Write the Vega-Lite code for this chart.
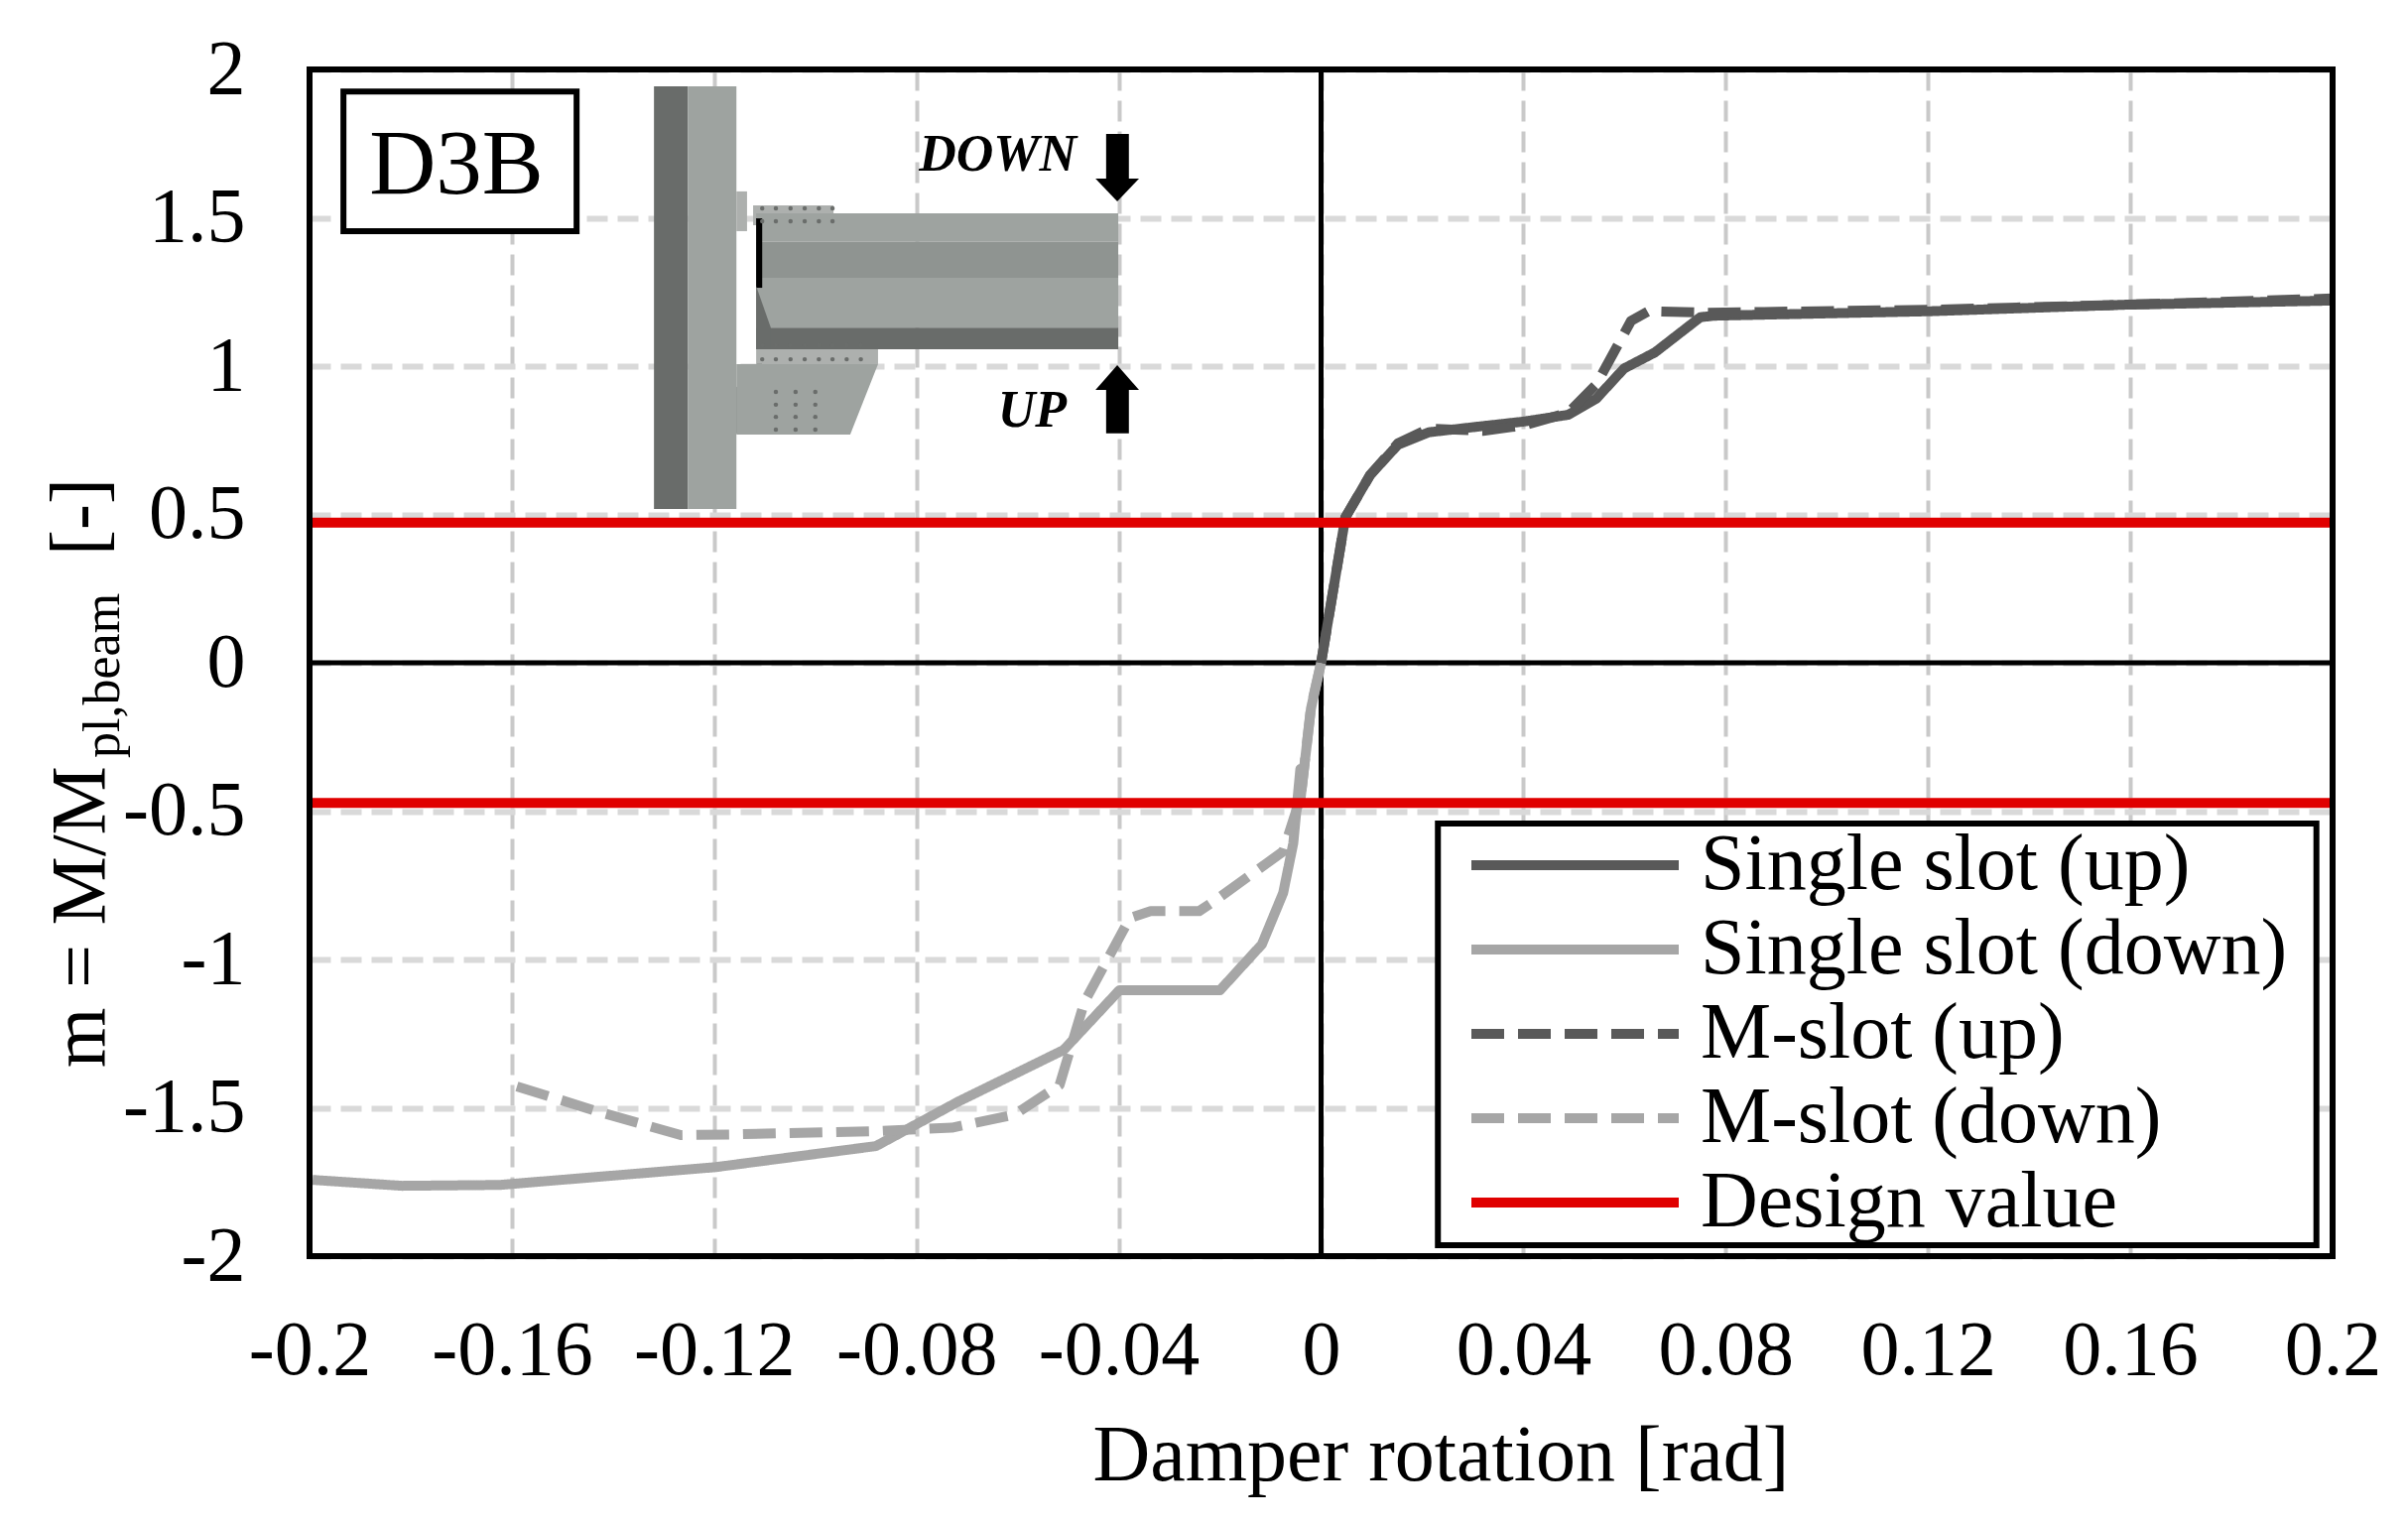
{
  "$schema": "https://vega.github.io/schema/vega-lite/v6.json",
  "width": 2039,
  "height": 1196,
  "autosize": "none",
  "padding": {"left": 312, "top": 70, "right": 76, "bottom": 272},
  "background": "white",
  "config": {
    "font": "Liberation Serif",
    "view": {"stroke": null}
  },
  "datasets": {
    "curves": [
      {"rotation": 0, "m": 0, "series": "Single slot (up)"},
      {"rotation": 0.0048, "m": 0.49, "series": "Single slot (up)"},
      {"rotation": 0.0097, "m": 0.633, "series": "Single slot (up)"},
      {"rotation": 0.0152, "m": 0.735, "series": "Single slot (up)"},
      {"rotation": 0.0213, "m": 0.777, "series": "Single slot (up)"},
      {"rotation": 0.031, "m": 0.796, "series": "Single slot (up)"},
      {"rotation": 0.04, "m": 0.813, "series": "Single slot (up)"},
      {"rotation": 0.0489, "m": 0.836, "series": "Single slot (up)"},
      {"rotation": 0.0544, "m": 0.89, "series": "Single slot (up)"},
      {"rotation": 0.0599, "m": 0.992, "series": "Single slot (up)"},
      {"rotation": 0.066, "m": 1.046, "series": "Single slot (up)"},
      {"rotation": 0.075, "m": 1.165, "series": "Single slot (up)"},
      {"rotation": 0.0778, "m": 1.17, "series": "Single slot (up)"},
      {"rotation": 0.1205, "m": 1.185, "series": "Single slot (up)"},
      {"rotation": 0.159, "m": 1.207, "series": "Single slot (up)"},
      {"rotation": 0.2, "m": 1.221, "series": "Single slot (up)"},

      {"rotation": 0, "m": 0, "series": "Single slot (down)"},
      {"rotation": -0.002, "m": -0.154, "series": "Single slot (down)"},
      {"rotation": -0.0041, "m": -0.358, "series": "Single slot (down)"},
      {"rotation": -0.0041, "m": -0.465, "series": "Single slot (down)"},
      {"rotation": -0.0055, "m": -0.609, "series": "Single slot (down)"},
      {"rotation": -0.0075, "m": -0.776, "series": "Single slot (down)"},
      {"rotation": -0.0117, "m": -0.949, "series": "Single slot (down)"},
      {"rotation": -0.02, "m": -1.104, "series": "Single slot (down)"},
      {"rotation": -0.0399, "m": -1.104, "series": "Single slot (down)"},
      {"rotation": -0.0509, "m": -1.305, "series": "Single slot (down)"},
      {"rotation": -0.0716, "m": -1.478, "series": "Single slot (down)"},
      {"rotation": -0.088, "m": -1.629, "series": "Single slot (down)"},
      {"rotation": -0.1197, "m": -1.7, "series": "Single slot (down)"},
      {"rotation": -0.1624, "m": -1.76, "series": "Single slot (down)"},
      {"rotation": -0.1817, "m": -1.763, "series": "Single slot (down)"},
      {"rotation": -0.1994, "m": -1.743, "series": "Single slot (down)"},

      {"rotation": 0, "m": 0, "series": "M-slot (up)"},
      {"rotation": 0.0048, "m": 0.49, "series": "M-slot (up)"},
      {"rotation": 0.0097, "m": 0.633, "series": "M-slot (up)"},
      {"rotation": 0.0152, "m": 0.74, "series": "M-slot (up)"},
      {"rotation": 0.0213, "m": 0.789, "series": "M-slot (up)"},
      {"rotation": 0.032, "m": 0.782, "series": "M-slot (up)"},
      {"rotation": 0.04, "m": 0.8, "series": "M-slot (up)"},
      {"rotation": 0.0489, "m": 0.843, "series": "M-slot (up)"},
      {"rotation": 0.0544, "m": 0.938, "series": "M-slot (up)"},
      {"rotation": 0.0613, "m": 1.153, "series": "M-slot (up)"},
      {"rotation": 0.0647, "m": 1.185, "series": "M-slot (up)"},
      {"rotation": 0.0765, "m": 1.18, "series": "M-slot (up)"},
      {"rotation": 0.1205, "m": 1.19, "series": "M-slot (up)"},
      {"rotation": 0.159, "m": 1.207, "series": "M-slot (up)"},
      {"rotation": 0.2, "m": 1.228, "series": "M-slot (up)"},

      {"rotation": 0, "m": 0, "series": "M-slot (down)"},
      {"rotation": -0.002, "m": -0.15, "series": "M-slot (down)"},
      {"rotation": -0.004, "m": -0.45, "series": "M-slot (down)"},
      {"rotation": -0.0075, "m": -0.636, "series": "M-slot (down)"},
      {"rotation": -0.0207, "m": -0.798, "series": "M-slot (down)"},
      {"rotation": -0.0241, "m": -0.837, "series": "M-slot (down)"},
      {"rotation": -0.0337, "m": -0.837, "series": "M-slot (down)"},
      {"rotation": -0.0378, "m": -0.86, "series": "M-slot (down)"},
      {"rotation": -0.0468, "m": -1.144, "series": "M-slot (down)"},
      {"rotation": -0.0517, "m": -1.423, "series": "M-slot (down)"},
      {"rotation": -0.0606, "m": -1.523, "series": "M-slot (down)"},
      {"rotation": -0.073, "m": -1.567, "series": "M-slot (down)"},
      {"rotation": -0.088, "m": -1.579, "series": "M-slot (down)"},
      {"rotation": -0.117, "m": -1.59, "series": "M-slot (down)"},
      {"rotation": -0.1266, "m": -1.592, "series": "M-slot (down)"},
      {"rotation": -0.1431, "m": -1.512, "series": "M-slot (down)"},
      {"rotation": -0.159, "m": -1.428, "series": "M-slot (down)"},

      {"rotation": -0.2, "m": 0.472, "series": "Design value", "side": "upper"},
      {"rotation": 0.2, "m": 0.472, "series": "Design value", "side": "upper"},
      {"rotation": -0.2, "m": -0.472, "series": "Design value", "side": "lower"},
      {"rotation": 0.2, "m": -0.472, "series": "Design value", "side": "lower"}
    ],
    "insetRects": [
      {"x": -0.1319, "x2": -0.1252, "y": 1.943, "y2": 0.518, "part": "dark"},
      {"x": -0.1252, "x2": -0.1156, "y": 1.943, "y2": 0.518, "part": "light"},
      {"x": -0.1156, "x2": -0.1135, "y": 1.589, "y2": 1.455, "part": "pale"},
      {"x": -0.1156, "x2": -0.1123, "y": 0.93, "y2": 0.773, "part": "dark"},
      {"x": -0.1123, "x2": -0.0964, "y": 1.542, "y2": 1.475, "part": "pale"},
      {"x": -0.1117, "x2": -0.0401, "y": 1.515, "y2": 1.42, "part": "light"},
      {"x": -0.1117, "x2": -0.0401, "y": 1.42, "y2": 1.298, "part": "mid"},
      {"x": -0.1117, "x2": -0.0401, "y": 1.298, "y2": 1.13, "part": "light"},
      {"x": -0.1117, "x2": -0.0401, "y": 1.13, "y2": 1.057, "part": "dark"},
      {"x": -0.1117, "x2": -0.0876, "y": 1.057, "y2": 1.007, "part": "pale"},
      {"x": -0.1117, "x2": -0.1105, "y": 1.498, "y2": 1.264, "part": "black"},
      {"x": -0.1125, "x2": -0.0954, "y": 0.946, "y2": 0.769, "part": "pale"},
      {"x": -0.1125, "x2": -0.0954, "y": 0.966, "y2": 0.946, "part": "black"},
      {"x": -0.0962, "x2": -0.0954, "y": 0.946, "y2": 0.78, "part": "black"},
      {"x": -0.1117, "x2": -0.1105, "y": 1.007, "y2": 0.946, "part": "black"},
      {"x": -0.0425, "x2": -0.038, "y": 1.783, "y2": 1.632, "part": "black"},
      {"x": -0.0425, "x2": -0.038, "y": 0.92, "y2": 0.773, "part": "black"}
    ],
    "insetAreas": [
      {"shape": "gusset", "x": -0.1156, "y": 1.007, "y2": 0.769, "part": "light"},
      {"shape": "gusset", "x": -0.0931, "y": 1.007, "y2": 0.769, "part": "light"},
      {"shape": "gusset", "x": -0.0876, "y": 1.007, "y2": 1.007, "part": "light"},
      {"shape": "downHead", "x": -0.0446, "y": 1.632, "y2": 1.632, "part": "black"},
      {"shape": "downHead", "x": -0.0403, "y": 1.632, "y2": 1.555, "part": "black"},
      {"shape": "downHead", "x": -0.036, "y": 1.632, "y2": 1.632, "part": "black"},
      {"shape": "upHead", "x": -0.0446, "y": 0.92, "y2": 0.92, "part": "black"},
      {"shape": "upHead", "x": -0.0403, "y": 1.003, "y2": 0.92, "part": "black"},
      {"shape": "upHead", "x": -0.036, "y": 0.92, "y2": 0.92, "part": "black"},
      {"shape": "wedge", "x": -0.1117, "y": 1.27, "y2": 1.057, "part": "dark"},
      {"shape": "wedge", "x": -0.1088, "y": 1.13, "y2": 1.057, "part": "dark"}
    ],
    "bolts": [
      {"x": -0.1105, "y": 1.532}, {"x": -0.1078, "y": 1.532}, {"x": -0.1049, "y": 1.532}, {"x": -0.1021, "y": 1.532}, {"x": -0.0993, "y": 1.532}, {"x": -0.0966, "y": 1.532},
      {"x": -0.1105, "y": 1.488}, {"x": -0.1078, "y": 1.488}, {"x": -0.1049, "y": 1.488}, {"x": -0.1021, "y": 1.488}, {"x": -0.0993, "y": 1.488}, {"x": -0.0966, "y": 1.488},
      {"x": -0.1105, "y": 1.07}, {"x": -0.1078, "y": 1.07}, {"x": -0.1049, "y": 1.07}, {"x": -0.1021, "y": 1.07}, {"x": -0.0993, "y": 1.07}, {"x": -0.0966, "y": 1.07}, {"x": -0.0938, "y": 1.07}, {"x": -0.091, "y": 1.07},
      {"x": -0.1105, "y": 1.023}, {"x": -0.1078, "y": 1.023}, {"x": -0.1049, "y": 1.023}, {"x": -0.1021, "y": 1.023}, {"x": -0.0993, "y": 1.023}, {"x": -0.0966, "y": 1.023}, {"x": -0.0938, "y": 1.023}, {"x": -0.091, "y": 1.023},
      {"x": -0.1078, "y": 0.913}, {"x": -0.1039, "y": 0.913}, {"x": -0.1, "y": 0.913},
      {"x": -0.1078, "y": 0.87}, {"x": -0.1039, "y": 0.87}, {"x": -0.1, "y": 0.87},
      {"x": -0.1078, "y": 0.829}, {"x": -0.1039, "y": 0.829}, {"x": -0.1, "y": 0.829},
      {"x": -0.1078, "y": 0.786}, {"x": -0.1039, "y": 0.786}, {"x": -0.1, "y": 0.786}
    ],
    "boxes": [
      {"x": -0.1933, "x2": -0.1472, "y": 1.926, "y2": 1.455, "box": "tag"},
      {"x": 0.0231, "x2": 0.1968, "y": -0.542, "y2": -1.963, "box": "legend"}
    ],
    "frame": [
      {"x": -0.2, "x2": 0.2, "y": -2, "y2": 2}
    ],
    "notes": [
      {"x": -0.1882, "y": 1.582, "label": "D3B", "kind": "tag"},
      {"x": -0.0795, "y": 1.659, "label": "DOWN", "kind": "load"},
      {"x": -0.0639, "y": 0.796, "label": "UP", "kind": "load"}
    ],
    "yTitle": [
      {"x": -0.2406, "y": -1.365, "label": "m = M/M", "kind": "main"},
      {"x": -0.2376, "y": -0.321, "label": "pl,beam", "kind": "sub"},
      {"x": -0.2406, "y": 0.361, "label": "[-]", "kind": "main"}
    ]
  },
  "layer": [
    {
      "data": {"values": [{"v": 0}]},
      "mark": {"type": "rule", "color": "black", "strokeWidth": 5},
      "encoding": {
        "x": {
          "field": "v",
          "type": "quantitative",
          "scale": {"domain": [-0.2, 0.2], "nice": false, "zero": false},
          "axis": {
            "values": [-0.2, -0.16, -0.12, -0.08, -0.04, 0, 0.04, 0.08, 0.12, 0.16, 0.2],
            "labelExpr": "datum.value + ''",
            "title": "Damper rotation [rad]",
            "titleFont": "Liberation Serif",
            "titleFontSize": 80,
            "titleFontWeight": "normal",
            "titleColor": "black",
            "titlePadding": 28,
            "titleX": 1140,
            "labelFont": "Liberation Serif",
            "labelFontSize": 78,
            "labelColor": "black",
            "labelPadding": 56,
            "labelFlush": false,
            "labelOverlap": false,
            "labelLimit": 400,
            "ticks": false,
            "domain": false,
            "grid": true,
            "gridColor": "#c9c9c9",
            "gridWidth": 4,
            "gridDash": [21, 10]
          }
        }
      }
    },
    {
      "data": {"values": [{"v": 0}]},
      "mark": {"type": "rule", "color": "black", "strokeWidth": 5},
      "encoding": {
        "y": {
          "field": "v",
          "type": "quantitative",
          "scale": {"domain": [-2, 2], "nice": false, "zero": false},
          "axis": {
            "values": [-2, -1.5, -1, -0.5, 0, 0.5, 1, 1.5, 2],
            "labelExpr": "datum.value + ''",
            "title": null,
            "labelFont": "Liberation Serif",
            "labelFontSize": 78,
            "labelColor": "black",
            "labelPadding": 65,
            "labelOverlap": false,
            "labelLimit": 400,
            "ticks": false,
            "domain": false,
            "grid": true,
            "gridColor": "#d9d9d9",
            "gridWidth": 6,
            "gridDash": [21, 10]
          }
        }
      }
    },
    {
      "data": {"name": "boxes"},
      "mark": {"type": "rect", "fill": "white", "stroke": "black", "strokeWidth": 6},
      "encoding": {
        "x": {"field": "x", "type": "quantitative"},
        "x2": {"field": "x2"},
        "y": {"field": "y", "type": "quantitative"},
        "y2": {"field": "y2"}
      }
    },
    {
      "data": {"name": "insetRects"},
      "mark": {"type": "rect"},
      "encoding": {
        "x": {"field": "x", "type": "quantitative"},
        "x2": {"field": "x2"},
        "y": {"field": "y", "type": "quantitative"},
        "y2": {"field": "y2"},
        "fill": {
          "field": "part",
          "type": "nominal",
          "legend": null,
          "scale": {
            "domain": ["black", "dark", "mid", "light", "pale"],
            "range": ["#000000", "#696c6a", "#8f9491", "#9ea3a0", "#adb0ae"]
          }
        }
      }
    },
    {
      "data": {"name": "insetAreas"},
      "mark": {"type": "area"},
      "encoding": {
        "x": {"field": "x", "type": "quantitative"},
        "y": {"field": "y", "type": "quantitative"},
        "y2": {"field": "y2"},
        "detail": {"field": "shape"},
        "fill": {
          "field": "part",
          "type": "nominal",
          "legend": null,
          "scale": {
            "domain": ["black", "dark", "mid", "light", "pale"],
            "range": ["#000000", "#696c6a", "#8f9491", "#9ea3a0", "#adb0ae"]
          }
        }
      }
    },
    {
      "data": {"name": "bolts"},
      "mark": {"type": "point", "filled": true, "size": 20, "color": "#6a6d6b", "opacity": 1},
      "encoding": {
        "x": {"field": "x", "type": "quantitative"},
        "y": {"field": "y", "type": "quantitative"}
      }
    },
    {
      "data": {"name": "notes"},
      "transform": [{"filter": "datum.kind == 'tag'"}],
      "mark": {"type": "text", "align": "left", "baseline": "alphabetic", "fontSize": 93, "font": "Liberation Serif", "color": "black"},
      "encoding": {
        "x": {"field": "x", "type": "quantitative"},
        "y": {"field": "y", "type": "quantitative"},
        "text": {"field": "label"}
      }
    },
    {
      "data": {"name": "notes"},
      "transform": [{"filter": "datum.kind == 'load'"}],
      "mark": {"type": "text", "align": "left", "baseline": "alphabetic", "fontSize": 52, "font": "Liberation Serif", "fontStyle": "italic", "fontWeight": "bold", "color": "black"},
      "encoding": {
        "x": {"field": "x", "type": "quantitative"},
        "y": {"field": "y", "type": "quantitative"},
        "text": {"field": "label"}
      }
    },
    {
      "data": {"name": "yTitle"},
      "transform": [{"filter": "datum.kind == 'main'"}],
      "mark": {"type": "text", "align": "left", "baseline": "alphabetic", "angle": 270, "fontSize": 78, "font": "Liberation Serif", "color": "black"},
      "encoding": {
        "x": {"field": "x", "type": "quantitative"},
        "y": {"field": "y", "type": "quantitative"},
        "text": {"field": "label"}
      }
    },
    {
      "data": {"name": "yTitle"},
      "transform": [{"filter": "datum.kind == 'sub'"}],
      "mark": {"type": "text", "align": "left", "baseline": "alphabetic", "angle": 270, "fontSize": 52, "font": "Liberation Serif", "color": "black"},
      "encoding": {
        "x": {"field": "x", "type": "quantitative"},
        "y": {"field": "y", "type": "quantitative"},
        "text": {"field": "label"}
      }
    },
    {
      "data": {"name": "curves"},
      "mark": {"type": "line", "strokeWidth": 10, "strokeCap": "butt", "strokeJoin": "round"},
      "encoding": {
        "x": {"field": "rotation", "type": "quantitative"},
        "y": {"field": "m", "type": "quantitative"},
        "detail": {"field": "side"},
        "color": {
          "field": "series",
          "type": "nominal",
          "sort": null,
          "scale": {
            "domain": ["Single slot (up)", "Single slot (down)", "M-slot (up)", "M-slot (down)", "Design value"],
            "range": ["#595959", "#a6a6a6", "#595959", "#a6a6a6", "#e00000"]
          },
          "legend": {
            "title": null,
            "orient": "none",
            "legendX": 1166,
            "legendY": 762,
            "zindex": 1,
            "padding": 0,
            "symbolType": "stroke",
            "symbolSize": 43681,
            "symbolStrokeWidth": 10,
            "labelFont": "Liberation Serif",
            "labelFontSize": 80,
            "labelColor": "black",
            "labelLimit": 800,
            "labelOffset": 17,
            "clipHeight": 80,
            "rowPadding": 5
          }
        },
        "strokeDash": {
          "field": "series",
          "type": "nominal",
          "sort": null,
          "scale": {
            "domain": ["Single slot (up)", "Single slot (down)", "M-slot (up)", "M-slot (down)", "Design value"],
            "range": [[1, 0], [1, 0], [33, 14], [33, 14], [1, 0]]
          }
        }
      }
    },
    {
      "data": {"name": "frame"},
      "mark": {"type": "rect", "fill": null, "stroke": "black", "strokeWidth": 6},
      "encoding": {
        "x": {"field": "x", "type": "quantitative"},
        "x2": {"field": "x2"},
        "y": {"field": "y", "type": "quantitative"},
        "y2": {"field": "y2"}
      }
    }
  ]
}
